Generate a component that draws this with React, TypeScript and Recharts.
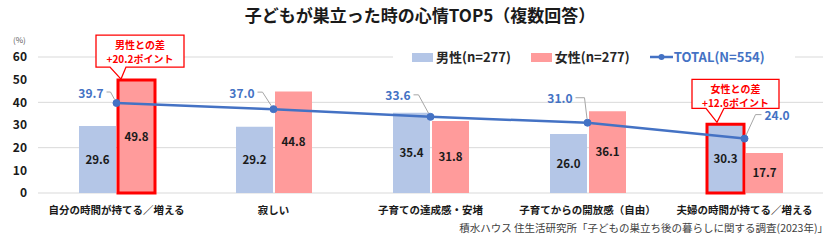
import React from "react";
import {
    ComposedChart,
    Bar,
    Line,
    XAxis,
    YAxis,
    CartesianGrid,
    Legend,
    Cell,
    LabelList,
} from "recharts";

const categories = [
    "自分の時間が持てる／増える",
    "寂しい",
    "子育ての達成感・安堵",
    "子育てからの開放感（自由）",
    "夫婦の時間が持てる／増える",
];
const maleValues = [29.6, 29.2, 35.4, 26.0, 30.3];
const femaleValues = [49.8, 44.8, 31.8, 36.1, 17.7];
const totalValues = [39.7, 37.0, 33.6, 31.0, 24.0];
const yTicks = [0, 10, 20, 30, 40, 50, 60];

const seriesNames = { male: "男性(n=277)", female: "女性(n=277)", total: "TOTAL(N=554)" };
const maleHighlight = [4];
const femaleHighlight = [0];
const maleCallout = { index: 4, lines: ["女性との差", "+12.6ポイント"] };
const femaleCallout = { index: 0, lines: ["男性との差", "+20.2ポイント"] };

const data = categories.map((name, i) => ({
    name,
    male: maleValues[i],
    female: femaleValues[i],
    total: totalValues[i],
}));

const MALE = "#B4C6E7";
const FEMALE = "#FF9B9B";
const TOTAL = "#4472C4";
const RED = "#FF0000";
const FONT = '"Noto Sans CJK JP", "Noto Sans", sans-serif';

// where each TOTAL label sits relative to its point, and where its leader bends
const totalLabelPlace = [
    { dx: -13, dy: -11, elbow: -6 },
    { dx: -19, dy: -17, elbow: -11 },
    { dx: -20, dy: -22, elbow: -12 },
    { dx: -15, dy: -25, elbow: -3 },
    { dx: 20, dy: -24, elbow: 11 },
];

// callout box geometry relative to the highlighted bar (x, y = bar top-left)
const calloutBox = {
    female: { left: -22, right: 66, top: -45, bottom: -13, baseL: -8, baseR: 8, tipX: 3, tipY: -1 },
    male: { left: -15, right: 72, top: -45, bottom: -16, baseL: -1, baseR: 17, tipX: 10, tipY: -2 },
};

function rectOf(p: any) {
    const vb = p.viewBox || {};
    return {
        x: Number(p.x ?? vb.x),
        y: Number(p.y ?? vb.y),
        width: Number(p.width ?? vb.width ?? 0),
    };
}

function makeCallout(kind: "male" | "female", cfg: { index: number; lines: string[] }) {
    return (p: any) => {
        if (p.index !== cfg.index) return null;
        const { x, y } = rectOf(p);
        const g = calloutBox[kind];
        const l = x + g.left;
        const r = x + g.right;
        const t = y + g.top;
        const b = y + g.bottom;
        const d = `M${l},${t} H${r} V${b} H${x + g.baseR} L${x + g.tipX},${y + g.tipY} L${x + g.baseL},${b} H${l} Z`;
        const cx = (l + r) / 2;
        return (
            <g>
                <path d={d} fill="#fff" stroke={RED} strokeWidth={1.3} />
                <text x={cx} y={t + 9} textAnchor="middle" dominantBaseline="central" fill={RED} fontSize={10} fontWeight={700}>
                    {cfg.lines[0]}
                </text>
                <text x={cx} y={t + 23} textAnchor="middle" dominantBaseline="central" fill={RED} fontSize={10} fontWeight={700}>
                    {cfg.lines[1]}
                </text>
            </g>
        );
    };
}

function TotalLabel(p: any) {
    const { x: px, y: py } = rectOf(p);
    const place = totalLabelPlace[p.index];
    if (!place) return null;
    const tx = px + place.dx;
    const ty = py + place.dy;
    const left = place.dx < 0;
    const startX = left ? tx + 3 : tx - 3;
    const ex = px + place.elbow;
    const vx = px - ex;
    const vy = py - ty;
    const len = Math.sqrt(vx * vx + vy * vy) || 1;
    const endX = px - (vx / len) * 4;
    const endY = py - (vy / len) * 4;
    return (
        <g>
            <polyline points={`${startX},${ty} ${ex},${ty} ${endX},${endY}`} fill="none" stroke="#A6A6A6" strokeWidth={1} />
            <text x={tx} y={ty} textAnchor={left ? "end" : "start"} dominantBaseline="central" fill={TOTAL} fontSize={12} fontWeight={700}>
                {Number(p.value).toFixed(1)}
            </text>
        </g>
    );
}

function LegendBox() {
    const txt: React.CSSProperties = { fontSize: 13, fontWeight: 700, color: "#262626", lineHeight: "18px" };
    return (
        <div style={{ display: "flex", alignItems: "center", height: 18, background: "#fff", fontFamily: FONT }}>
            <span style={{ width: 21, height: 9, background: MALE, marginLeft: 19 }} />
            <span style={{ ...txt, marginLeft: 3 }}>{seriesNames.male}</span>
            <span style={{ width: 21, height: 9, background: FEMALE, marginLeft: 20 }} />
            <span style={{ ...txt, marginLeft: 3 }}>{seriesNames.female}</span>
            <svg width={23} height={10} style={{ marginLeft: 20 }}>
                <line x1={0} y1={5} x2={23} y2={5} stroke={TOTAL} strokeWidth={2.5} />
                <circle cx={11.5} cy={5} r={3} fill={TOTAL} />
            </svg>
            <span style={{ ...txt, marginLeft: 1, color: TOTAL }}>{seriesNames.total}</span>
        </div>
    );
}

const fmt = (v: any) => Number(v).toFixed(1);

export default function App() {
    return (
        <div style={{ position: "absolute", left: 0, top: 0, width: 840, height: 244, background: "#fff", fontFamily: FONT }}>
            <div
                style={{
                    position: "absolute",
                    top: 4,
                    left: 0,
                    width: 840,
                    textAlign: "center",
                    fontSize: 17,
                    fontWeight: 700,
                    color: "#1a1a1a",
                    lineHeight: "22px",
                }}
            >
                子どもが巣立った時の心情TOP5（複数回答）
            </div>
            <div style={{ position: "absolute", top: 34, left: 13, fontSize: 8, color: "#595959", lineHeight: "12px" }}>(%)</div>
            <ComposedChart
                width={840}
                height={244}
                data={data}
                margin={{ top: 57, right: 17, bottom: 0, left: 0 }}
                barSize={37}
                barGap={2}
            >
                <CartesianGrid vertical={false} stroke="#D9D9D9" strokeWidth={1} />
                <XAxis
                    dataKey="name"
                    height={51}
                    axisLine={false}
                    tickLine={false}
                    interval={0}
                    tickMargin={8}
                    tick={{ fontSize: 10.5, fontWeight: 700, fill: "#1a1a1a" }}
                />
                <YAxis
                    width={38}
                    domain={[0, 60]}
                    ticks={yTicks}
                    axisLine={false}
                    tickLine={false}
                    tickMargin={5}
                    tick={{ fontSize: 12, fontWeight: 700, fill: "#1a1a1a" }}
                />
                <Legend
                    layout="horizontal"
                    verticalAlign="middle"
                    align="center"
                    content={() => <LegendBox />}
                    wrapperStyle={{ left: 393, top: 48, width: 402, height: 18 }}
                />
                <Bar dataKey="male" name={seriesNames.male} fill={MALE} isAnimationActive={false}>
                    {data.map((_, i) => (
                        <Cell
                            key={i}
                            fill={MALE}
                            stroke={maleHighlight.includes(i) ? RED : "none"}
                            strokeWidth={maleHighlight.includes(i) ? 3 : 0}
                        />
                    ))}
                    <LabelList dataKey="male" position="center" formatter={fmt} fill="#1a1a1a" fontSize={11.5} fontWeight={700} />
                    <LabelList dataKey="male" content={makeCallout("male", maleCallout)} />
                </Bar>
                <Bar dataKey="female" name={seriesNames.female} fill={FEMALE} isAnimationActive={false}>
                    {data.map((_, i) => (
                        <Cell
                            key={i}
                            fill={FEMALE}
                            stroke={femaleHighlight.includes(i) ? RED : "none"}
                            strokeWidth={femaleHighlight.includes(i) ? 3 : 0}
                        />
                    ))}
                    <LabelList dataKey="female" position="center" formatter={fmt} fill="#1a1a1a" fontSize={11.5} fontWeight={700} />
                    <LabelList dataKey="female" content={makeCallout("female", femaleCallout)} />
                </Bar>
                <Line
                    dataKey="total"
                    name={seriesNames.total}
                    stroke={TOTAL}
                    strokeWidth={2.5}
                    dot={{ r: 3.5, fill: TOTAL, stroke: TOTAL, strokeWidth: 1 }}
                    activeDot={false}
                    isAnimationActive={false}
                    label={(p: any) => <TotalLabel {...p} />}
                />
            </ComposedChart>
            <div
                style={{
                    position: "absolute",
                    right: 12,
                    top: 221,
                    fontSize: 10.5,
                    color: "#404040",
                    lineHeight: "14px",
                    whiteSpace: "nowrap",
                }}
            >
                積水ハウス 住生活研究所「子どもの巣立ち後の暮らしに関する調査(2023年)」
            </div>
        </div>
    );
}
